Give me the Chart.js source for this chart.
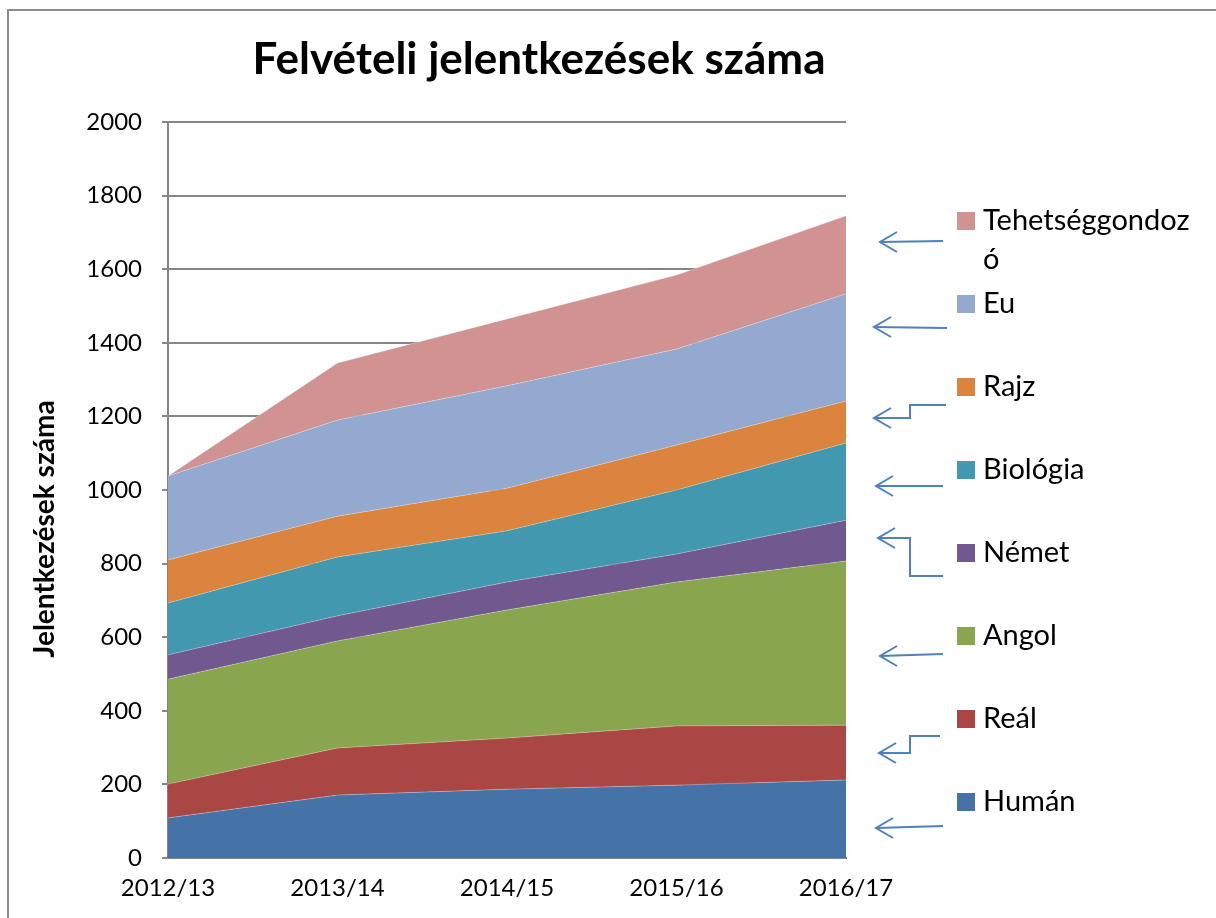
<!DOCTYPE html>
<html>
<head>
<meta charset="utf-8">
<script src="https://cdn.jsdelivr.net/npm/chart.js@4.4.1/dist/chart.umd.min.js"></script>
<style>
  html, body { margin: 0; padding: 0; background: #fff; }
  #wrap { width: 1216px; height: 918px; position: relative; }
</style>
</head>
<body>
<div id="wrap"><canvas id="areaChart" width="1216" height="918"></canvas></div>
<script>
// years on the x axis
var years = ['2012/13', '2013/14', '2014/15', '2015/16', '2016/17'];

// applicants per programme
var human    = [109, 171, 187, 198, 212];
var real     = [ 92, 128, 139, 161, 149];
var angol    = [285, 291, 348, 391, 446];
var nemet    = [ 66,  68,  76,  76, 111];
var biologia = [141, 160, 139, 174, 210];
var rajz     = [117, 111, 116, 122, 114];
var eu       = [228, 261, 278, 261, 291];
var tehetseg = [  0, 155, 182, 201, 212];

var yTicks = [0, 200, 400, 600, 800, 1000, 1200, 1400, 1600, 1800, 2000];

var FONT = 'Lato, "Liberation Sans", sans-serif';

var series = [
    { label: 'Humán',            data: human,    color: '#4572A7' },
    { label: 'Reál',             data: real,     color: '#AA4643' },
    { label: 'Angol',            data: angol,    color: '#89A54E' },
    { label: 'Német',            data: nemet,    color: '#71588F' },
    { label: 'Biológia',         data: biologia, color: '#4198AF' },
    { label: 'Rajz',             data: rajz,     color: '#DB843D' },
    { label: 'Eu',               data: eu,       color: '#93A9CF' },
    { label: 'Tehetséggondozó',  data: tehetseg, color: '#D19392' }
];

var datasets = series.map(function (s, i) {
    return {
        label: s.label,
        data: s.data,
        backgroundColor: s.color,
        borderColor: 'rgba(255,255,255,0.5)',
        borderWidth: 0.6,
        pointRadius: 0,
        tension: 0,
        fill: i === 0 ? 'origin' : '-1'
    };
});

// title, axis title, frame, hand made legend and the blue arrows
var decorations = {
    id: 'decorations',
    beforeDraw: function (chart) {
        var ctx = chart.ctx;
        ctx.save();
        ctx.fillStyle = '#fff';
        ctx.fillRect(0, 0, chart.width, chart.height);
        ctx.strokeStyle = '#8c8c8c';
        ctx.lineWidth = 2;
        ctx.beginPath();
        ctx.moveTo(8, 918);
        ctx.lineTo(8, 10);
        ctx.lineTo(1216, 10);
        ctx.stroke();
        ctx.restore();
    },
    afterDraw: function (chart) {
        var ctx = chart.ctx;
        ctx.save();
        // title
        ctx.fillStyle = '#000';
        ctx.font = 'bold 44px ' + FONT;
        ctx.textAlign = 'center';
        ctx.textBaseline = 'middle';
        ctx.fillText('Felvételi jelentkezések száma', 539, 60);

        // y axis title
        ctx.save();
        ctx.translate(45, 529);
        ctx.rotate(-Math.PI / 2);
        ctx.font = 'bold 28px ' + FONT;
        ctx.fillText('Jelentkezések száma', 0, 0);
        ctx.restore();

        // legend, reversed order like Excel
        ctx.textAlign = 'left';
        ctx.font = '29px ' + FONT;
        var rev = series.slice().reverse();
        for (var i = 0; i < rev.length; i++) {
            var cy = 221 + i * 83.0;
            ctx.fillStyle = rev[i].color;
            ctx.fillRect(957, cy - 9, 18, 18);
            ctx.fillStyle = '#000';
            if (rev[i].label === 'Tehetséggondozó') {
                ctx.fillText('Tehetséggondoz', 983, cy);
                ctx.fillText('ó', 983, cy + 39);
            } else {
                ctx.fillText(rev[i].label, 983, cy);
            }
        }

        // arrows
        ctx.strokeStyle = '#4F81BD';
        ctx.lineWidth = 2;
        var arrows = [
            [[943, 241], [880, 242]],
            [[947, 328], [874, 327]],
            [[946, 405], [910, 405], [910, 418], [874, 418]],
            [[943, 486], [876, 486]],
            [[943, 576], [910, 576], [910, 538], [878, 538]],
            [[943, 654], [880, 656]],
            [[940, 736], [910, 736], [910, 753], [879, 753]],
            [[943, 826], [876, 828]]
        ];
        arrows.forEach(function (pts) {
            ctx.beginPath();
            ctx.moveTo(pts[0][0], pts[0][1]);
            for (var k = 1; k < pts.length; k++) ctx.lineTo(pts[k][0], pts[k][1]);
            ctx.stroke();
            var tip = pts[pts.length - 1];
            ctx.beginPath();
            ctx.moveTo(tip[0] + 17, tip[1] - 10);
            ctx.lineTo(tip[0], tip[1]);
            ctx.lineTo(tip[0] + 17, tip[1] + 10);
            ctx.stroke();
        });
        ctx.restore();
    }
};

var areaChartCanvas = document.getElementById('areaChart').getContext('2d');
var areaChart = new Chart(areaChartCanvas, {
    type: 'line',
    data: { labels: years, datasets: datasets },
    options: {
        responsive: false,
        animation: false,
        layout: { padding: { top: 122, right: 370, left: 0, bottom: 0 } },
        plugins: {
            legend: { display: false },
            title: { display: false },
            tooltip: { enabled: false },
            filler: { propagate: false }
        },
        scales: {
            x: {
                offset: false,
                grid: { display: false, drawTicks: false },
                border: { color: '#868686', width: 2 },
                ticks: { color: '#000', font: { family: FONT, size: 24 }, padding: 16, maxRotation: 0 },
                afterFit: function (s) { s.height = 60; }
            },
            y: {
                stacked: true,
                min: 0,
                max: 2000,
                afterBuildTicks: function (s) {
                    s.ticks = yTicks.map(function (v) { return { value: v }; });
                },
                grid: { color: '#868686', lineWidth: 2, tickLength: 6 },
                border: { color: '#868686', width: 2 },
                ticks: {
                    color: '#000',
                    font: { family: FONT, size: 24 },
                    padding: 20,
                    callback: function (v) { return String(v); }
                },
                afterFit: function (s) { s.width = 168; }
            }
        }
    },
    plugins: [decorations]
});
</script>
</body>
</html>
